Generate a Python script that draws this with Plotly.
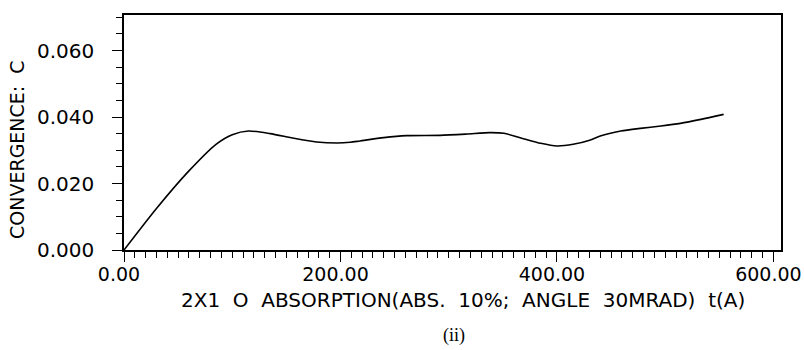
import plotly.graph_objects as go

thickness_A = [0, 30, 60, 85, 100, 115, 135, 157, 178, 197, 209, 218,
               240, 261, 292, 317, 338, 351, 366, 385, 400, 415, 431, 440, 459, 477,
               496, 514, 533, 554]
convergence = [0.0, 0.0125, 0.0238, 0.0318, 0.0347, 0.0358, 0.0350, 0.0336, 0.0325,
               0.0322, 0.0324, 0.0328,
               0.0338, 0.0344, 0.0345, 0.0349, 0.0353, 0.0351, 0.0338, 0.0321, 0.0313,
               0.0318, 0.0331, 0.0343, 0.0358, 0.0366, 0.0373, 0.0381, 0.0393, 0.0408]

x_ticks = [0, 200, 400, 600]
x_tick_labels = ["0.00", "200.00", "400.00", "600.00"]
y_ticks = [0.0, 0.02, 0.04, 0.06]
y_tick_labels = ["0.000", "0.020", "0.040", "0.060"]

x_title = "2X1  O  ABSORPTION(ABS.  10%;  ANGLE  30MRAD)  t(A)"
y_title = "CONVERGENCE:  C"
caption = "(ii)"

font = "DejaVu Sans, Verdana, sans-serif"

fig = go.Figure()
fig.add_trace(go.Scatter(x=thickness_A, y=convergence, mode="lines",
                         line=dict(color="black", width=1.6, shape="spline", smoothing=0.7),
                         showlegend=False, hoverinfo="skip"))

fig.update_layout(
    width=804, height=350,
    margin=dict(l=124, r=23, t=15, b=100, autoexpand=False),
    paper_bgcolor="white", plot_bgcolor="white",
    font=dict(family=font, color="black", size=20),
    xaxis=dict(range=[0, 607], tickvals=x_ticks, ticktext=x_tick_labels,
               ticks="outside", ticklen=10, tickwidth=1.3, tickcolor="black",
               showline=True, linecolor="black", linewidth=1.5, mirror=True,
               showgrid=False, zeroline=False, automargin=False,
               tickfont=dict(size=19, family=font),
               ticklabelshift=-5, ticklabelstandoff=-4, ticklabeloverflow="allow",
               minor=dict(dtick=10, tick0=0, ticks="outside", ticklen=6,
                          tickwidth=1.2, tickcolor="black", showgrid=False)),
    yaxis=dict(range=[0, 0.0707], tickvals=y_ticks, ticktext=y_tick_labels,
               ticks="outside", ticklen=10, tickwidth=1.3, tickcolor="black",
               showline=True, linecolor="black", linewidth=1.5, mirror=True,
               showgrid=False, zeroline=False, automargin=False,
               tickfont=dict(size=20, family=font),
               ticklabelstandoff=14,
               minor=dict(dtick=0.005, tick0=0, ticks="outside", ticklen=6,
                          tickwidth=1.2, tickcolor="black", showgrid=False)),
    annotations=[
        dict(text=x_title, xref="paper", yref="paper", x=(463 - 124) / 657, y=-50 / 235,
             xanchor="center", yanchor="middle", showarrow=False,
             font=dict(size=20, family=font)),
        dict(text=y_title, xref="paper", yref="paper", x=-(124 - 17) / 657, y=(250 - 150) / 235,
             xanchor="center", yanchor="middle", showarrow=False, textangle=-90,
             font=dict(size=19, family=font)),
        dict(text=caption, xref="paper", yref="paper", x=(454 - 124) / 657, y=-86 / 235,
             xanchor="center", yanchor="middle", showarrow=False,
             font=dict(size=18, family="Liberation Serif, Times New Roman, serif")),
    ],
)

fig.write_html("out.html")
